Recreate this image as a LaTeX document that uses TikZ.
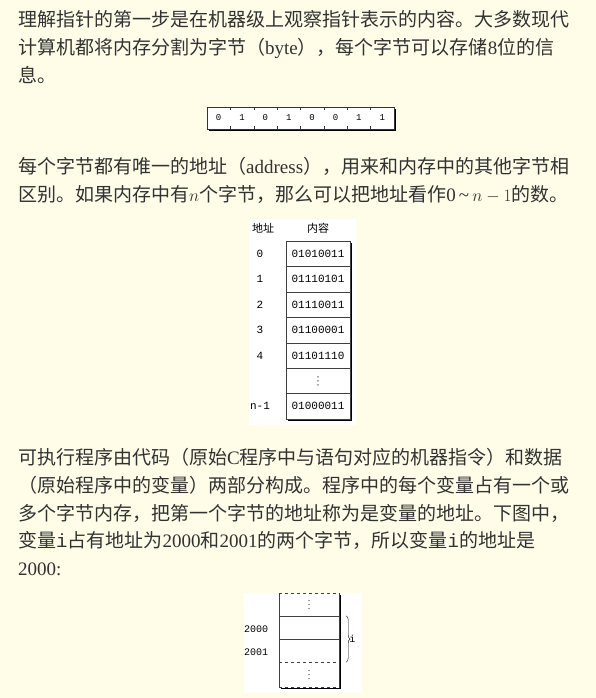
\documentclass[tikz,border=0pt]{standalone}
\usepackage{fontspec}
\setmainfont{Liberation Serif}
\setmonofont{Liberation Mono}
\newfontfamily\cjk{Noto Sans CJK SC}
\usetikzlibrary{decorations.pathreplacing}

\definecolor{pagebg}{RGB}{255,253,232}
\definecolor{inkgray}{RGB}{50,50,50}

\tikzset{
  txtline/.style={anchor=base west, inner sep=0pt, text=inkgray, font=\cjk\fontsize{19}{19}\selectfont},
  bit/.style={inner sep=0pt, font=\ttfamily\fontsize{9}{9}\selectfont},
  cell/.style={draw=black!75, minimum width=64pt, minimum height=25.43pt, inner sep=0pt, font=\ttfamily\fontsize{11}{11}\selectfont},
  addr/.style={inner sep=0pt, font=\ttfamily\fontsize{11}{11}\selectfont},
  slot/.style={minimum width=60pt, inner sep=0pt},
  shadowline/.style={line width=1.8pt, black},
}
% three small dots for a skipped run of cells
\newcommand{\skipdots}[1]{\foreach \d in {-4,0,4} \fill[black!80] ([yshift=\d pt]#1.center) circle (0.7pt);}

\begin{document}
\begin{tikzpicture}[x=1pt,y=-1pt]
\fill[pagebg] (0,0) rectangle (596,698);
\useasboundingbox (0,0) rectangle (596,698);

% first paragraph
\node[txtline] (p1a) at (18,27) {理解指针的第一步是在机器级上观察指针表示的内容。大多数现代};
\node[txtline] (p1b) at (18,55) {计算机都将内存分割为字节（{\rmfamily byte}），每个字节可以存储{\rmfamily 8}位的信};
\node[txtline] (p1c) at (18,83) {息。};

% one byte
\fill[white] (207,107) rectangle (394,129);
\draw[black!80] (207,107) rectangle (394,129);
\draw[shadowline] (395.5,109) -- (395.5,130.5) -- (209,130.5);
\foreach \k in {1,...,7}
  \draw[black!80] (207+\k*23.375,107) -- ++(0,3) (207+\k*23.375,129) -- ++(0,-3);
\foreach \b [count=\k] in {0,1,0,1,0,0,1,1}
  \node[bit] (b\k) at (207+\k*23.375-11.69,118) {\b};

% second paragraph
\node[txtline] (p2a) at (18,173) {每个字节都有唯一的地址（{\rmfamily address}），用来和内存中的其他字节相};
\node[txtline] (p2b) at (18,201) {区别。如果内存中有$n$个字节，那么可以把地址看作{\rmfamily 0\,\textasciitilde\,}$n-1$的数。};

% address table
\fill[white] (249,219) rectangle (356,425);
\node[inner sep=0pt, font=\cjk\fontsize{11}{11}\selectfont] (hdaddr) at (263,228) {地址};
\node[inner sep=0pt, font=\cjk\fontsize{11}{11}\selectfont] (hdval) at (318,228) {内容};
\foreach \v/\a [count=\k from 0] in {01010011/0,01110101/1,01110011/2,01100001/3,01101110/4,{}/{},01000011/n-1}{
  \node[cell] (r\k) at (318,241+\k*25.43+12.71) {\v};
  \node[addr] (a\k) at (260,241+\k*25.43+12.71) {\a};
}
\skipdots{r5}
\draw[shadowline] (351.5,243) -- (351.5,420.5) -- (288,420.5);

% third paragraph
\node[txtline] (p3a) at (18,464) {可执行程序由代码（原始{\rmfamily C}程序中与语句对应的机器指令）和数据};
\node[txtline] (p3b) at (18,492) {（原始程序中的变量）两部分构成。程序中的每个变量占有一个或};
\node[txtline] (p3c) at (18,520) {多个字节内存，把第一个字节的地址称为是变量的地址。下图中，};
\node[txtline] (p3d) at (18,547) {变量{\ttfamily i}占有地址为{\rmfamily 2000}和{\rmfamily 2001}的两个字节，所以变量{\ttfamily i}的地址是};
\node[txtline] (p3e) at (18,575) {{\rmfamily 2000:}};

% variable i in memory
\fill[white] (244,593) rectangle (362,693);
\node[slot, minimum height=23pt] (s0) at (309,604.5) {};
\node[slot, minimum height=23pt] (s1) at (309,627.5) {};
\node[slot, minimum height=23pt] (s2) at (309,650.5) {};
\node[slot, minimum height=25pt] (s3) at (309,674.5) {};
\skipdots{s0}
\skipdots{s3}
\draw[black!75] (s0.north west) -- (s3.south west);
\draw[black!75] (s0.north east) -- (s3.south east);
\draw[black!75, dashed] (s0.north west) -- (s0.north east);
\draw[black!75] (s1.north west) -- (s1.north east);
\draw[black!75] (s2.north west) -- (s2.north east);
\draw[black!75, dashed] (s3.north west) -- (s3.north east);
\draw[black!75, dashed] (s3.south west) -- (s3.south east);
\draw[shadowline] (340.5,595) -- (340.5,688.5) -- (281,688.5);
\node[addr, font=\ttfamily\fontsize{10}{10}\selectfont] (m2000) at (256,629) {2000};
\node[addr, font=\ttfamily\fontsize{10}{10}\selectfont] (m2001) at (256,652) {2001};
\draw[decorate, decoration={brace, amplitude=4pt}] ([xshift=7pt]s1.north east) -- ([xshift=7pt]s2.south east)
  node[midway, right=3pt, addr, font=\ttfamily\fontsize{10}{10}\selectfont] (ilabel) {i};
\end{tikzpicture}
\end{document}
